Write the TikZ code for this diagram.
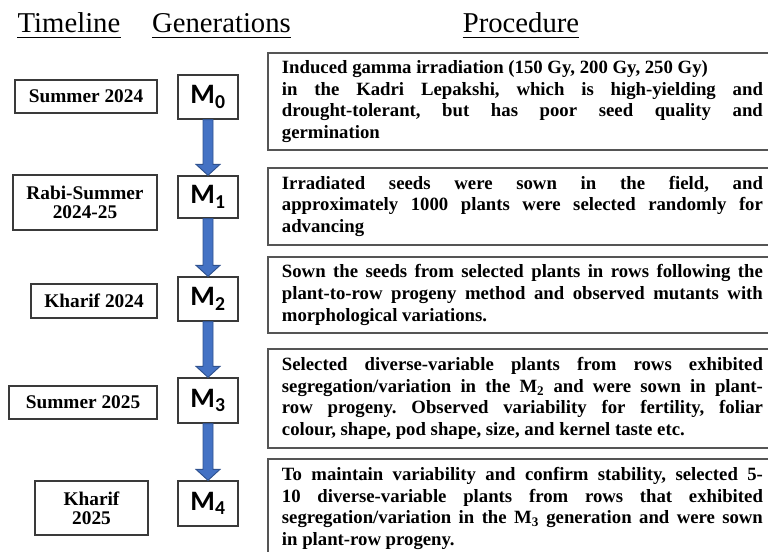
\documentclass[tikz,border=0pt]{standalone}
\usepackage{fontspec}
\setmainfont{Liberation Serif}
\newfontfamily\gensf{Carlito}
\usepackage{xcolor}
\usepackage{tikz}
\usetikzlibrary{calc}
\newlength\pxl
\setlength\pxl{0.3mm}
\frenchspacing
\definecolor{arrblue}{HTML}{4472C4}
\definecolor{arredge}{HTML}{2F528F}
\definecolor{boxline}{HTML}{3A3A3A}
\definecolor{procline}{HTML}{555555}
\tikzset{hdr/.style={inner sep=0pt,anchor=base,font=\fontsize{24.5}{28}\selectfont},
  tbox/.style={draw=boxline,line width=1.1pt,fill=white,align=center,inner sep=0pt,font=\fontsize{16.5}{16.5}\bfseries\selectfont},
  gbox/.style={draw=boxline,line width=1.1pt,fill=white,minimum width=60\pxl,minimum height=44\pxl,inner sep=0pt,font=\fontsize{24}{26}\gensf\bfseries\selectfont},
  pbox/.style={draw=procline,line width=1.6pt,anchor=north west,text width=481\pxl,inner xsep=14\pxl,inner ysep=0pt,align=justify,font=\fontsize{16}{18.5}\bfseries\selectfont},
  garrow/.style={draw=arredge,line width=0.8pt,fill=arrblue}}

\begin{document}
\begin{tikzpicture}[x=0.3mm,y=-0.3mm]
\useasboundingbox (0,0) rectangle (768,552);
\clip (0,0) rectangle (768,552);
% column headers
\node[hdr] (hTime) at (69,33) {Timeline};
\node[hdr] (hGen) at (221.5,33) {Generations};
\node[hdr] (hProc) at (521,33) {Procedure};
\draw[line width=0.8pt] ($(hTime.base west)+(0,4)$) -- ($(hTime.base east)+(0,4)$);
\draw[line width=0.8pt] ($(hGen.base west)+(0,4)$) -- ($(hGen.base east)+(0,4)$);
\draw[line width=0.8pt] ($(hProc.base west)+(0,4)$) -- ($(hProc.base east)+(0,4)$);
% timeline
\node[tbox,minimum width=142\pxl,minimum height=33\pxl] (t0) at (86,96.5) {Summer 2024};
\node[tbox,minimum width=144\pxl,minimum height=55\pxl] (t1) at (85,202.5) {Rabi-Summer\\2024-25};
\node[tbox,minimum width=126\pxl,minimum height=34\pxl] (t2) at (94,301) {Kharif 2024};
\node[tbox,minimum width=148\pxl,minimum height=33\pxl] (t3) at (83,402.5) {Summer 2025};
\node[tbox,minimum width=113\pxl,minimum height=54\pxl] (t4) at (91.5,508) {Kharif\\2025};
% generations
\node[gbox] (m0) at (208,97) {M\textsubscript{0}};
\node[gbox,minimum height=42\pxl] (m1) at (208,197) {M\textsubscript{1}};
\node[gbox] (m2) at (208,299) {M\textsubscript{2}};
\node[gbox,minimum height=45\pxl] (m3) at (208,400.5) {M\textsubscript{3}};
\node[gbox,minimum height=45\pxl] (m4) at (208,503.5) {M\textsubscript{4}};
\foreach \a/\b in {m0/m1,m1/m2,m2/m3,m3/m4}
  \draw[garrow] ($(\a.south)+(-5,0)$) -- ($(\b.north)+(-5,-11)$) -- ($(\b.north)+(-12,-11)$) -- (\b.north)
    -- ($(\b.north)+(12,-11)$) -- ($(\b.north)+(5,-11)$) -- ($(\a.south)+(5,0)$) -- cycle;
% procedure
\node[pbox,minimum height=97\pxl] (p0) at (267,52) {Induced gamma irradiation (150 Gy, 200 Gy, 250 Gy)\\
  in the Kadri Lepakshi, which is high-yielding and\linebreak drought-tolerant, but has poor seed quality and\linebreak germination};
\node[pbox,minimum height=77\pxl] (p1) at (267,167) {Irradiated seeds were sown in the field, and\linebreak
  approximately 1000 plants were selected randomly for\linebreak advancing};
\node[pbox,minimum height=76\pxl] (p2) at (267,256) {Sown the seeds from selected plants in rows following the\linebreak
  plant-to-row progeny method and observed mutants with\linebreak morphological variations.};
\node[pbox,minimum height=99\pxl] (p3) at (267,348) {Selected diverse-variable plants from rows exhibited\linebreak
  segregation/variation in the M\textsubscript{2} and were sown in plant-\linebreak row progeny. Observed variability for fertility, foliar\linebreak
  colour, shape, pod shape, size, and kernel taste etc.};
\node[pbox,minimum height=99\pxl] (p4) at (267,458) {To maintain variability and confirm stability, selected 5-\linebreak
  10 diverse-variable plants from rows that exhibited\linebreak segregation/variation in the M\textsubscript{3} generation and were sown\linebreak
  in plant-row progeny.};
\end{tikzpicture}
\end{document}
